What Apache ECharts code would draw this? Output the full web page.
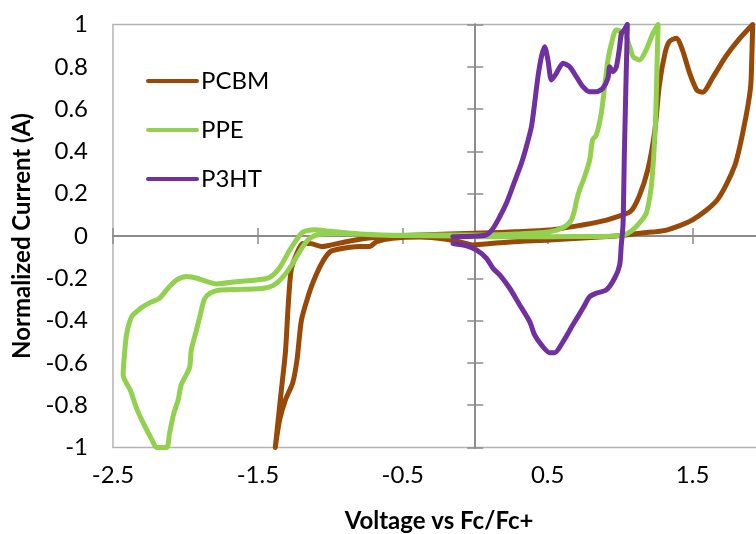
<!DOCTYPE html>
<html>
<head>
<meta charset="utf-8">
<script src="https://cdn.jsdelivr.net/npm/echarts@6/dist/echarts.min.js"></script>
<style>
html,body{margin:0;padding:0;background:#fff;}
#chart{width:756px;height:534px;}
</style>
</head>
<body>
<div id="chart"></div>
<script>
// ---- data (Voltage vs Fc/Fc+, Normalized Current) ----
const seriesNames = ['PCBM', 'PPE', 'P3HT'];
const seriesColors = ['#984807', '#92D050', '#7030A0'];

const pcbmCurve = [
  [-0.02,-0.043],[0.24,-0.028],[0.51,-0.019],[0.86,-0.005],[1.04,0.005],[1.15,0.014],[1.32,0.028],
  [1.50,0.076],[1.67,0.17],[1.79,0.33],[1.85,0.50],[1.90,0.70],[1.91,0.87],[1.915,1.0],
  [1.82,0.93],[1.73,0.85],[1.64,0.75],[1.57,0.68],[1.53,0.69],[1.48,0.77],[1.43,0.88],[1.39,0.935],
  [1.34,0.92],[1.31,0.865],[1.27,0.71],[1.24,0.50],[1.19,0.31],[1.13,0.186],[1.07,0.115],[0.95,0.085],
  [0.86,0.068],[0.74,0.052],[0.51,0.028],[0.28,0.02],[0.05,0.014],[-0.18,0.01],[-0.38,0.005],
  [-0.57,0.0],[-0.75,-0.011],[-0.89,-0.027],[-1.00,-0.043],[-1.06,-0.05],[-1.14,-0.035],[-1.19,-0.035],
  [-1.23,-0.08],[-1.27,-0.16],[-1.29,-0.32],[-1.31,-0.55],[-1.34,-0.74],[-1.36,-0.87],[-1.38,-1.0],
  [-1.35,-0.87],[-1.31,-0.775],[-1.26,-0.695],[-1.23,-0.585],[-1.20,-0.40],[-1.16,-0.30],[-1.12,-0.22],
  [-1.06,-0.13],[-1.00,-0.074],[-0.91,-0.058],[-0.80,-0.05],[-0.73,-0.05],[-0.68,-0.027],[-0.57,-0.011],
  [-0.38,-0.005],[-0.2,-0.015],[-0.09,-0.03],[-0.02,-0.043]
];

const ppeCurve = [
  [0,-0.003],[0.5,-0.003],[0.9,-0.002],[1.0,0.003],[1.05,0.012],[1.11,0.044],[1.18,0.107],[1.215,0.233],
  [1.233,0.39],[1.245,0.548],[1.254,0.785],[1.262,1.0],
  [1.226,0.958],[1.18,0.88],[1.134,0.832],[1.09,0.848],[1.066,0.895],[1.03,0.958],[0.974,0.974],
  [0.94,0.91],[0.916,0.832],[0.893,0.706],[0.87,0.58],[0.836,0.478],[0.81,0.454],[0.79,0.36],
  [0.755,0.28],[0.72,0.217],[0.70,0.17],[0.686,0.123],[0.663,0.076],[0.617,0.044],[0.514,0.02],
  [0.284,0.01],[0.054,0.005],[-0.176,0.005],[-0.5,0.004],[-0.8,0.01],[-1.0,0.022],[-1.11,0.03],
  [-1.18,0.022],[-1.21,0.005],
  [-1.28,-0.066],[-1.35,-0.15],[-1.42,-0.196],[-1.51,-0.208],[-1.65,-0.216],[-1.785,-0.227],
  [-1.85,-0.216],[-1.92,-0.20],[-1.99,-0.192],[-2.06,-0.208],[-2.12,-0.247],[-2.18,-0.295],
  [-2.245,-0.315],[-2.31,-0.342],[-2.37,-0.38],[-2.405,-0.46],[-2.42,-0.555],[-2.43,-0.657],
  [-2.38,-0.73],[-2.34,-0.81],[-2.29,-0.886],[-2.23,-0.965],[-2.20,-1.0],[-2.13,-1.0],[-2.11,-0.933],
  [-2.08,-0.838],[-2.05,-0.775],[-2.03,-0.705],[-1.99,-0.65],[-1.97,-0.618],[-1.96,-0.54],
  [-1.93,-0.46],[-1.90,-0.38],[-1.87,-0.30],[-1.83,-0.27],[-1.76,-0.255],[-1.60,-0.252],
  [-1.46,-0.247],[-1.39,-0.232],[-1.325,-0.192],[-1.26,-0.13],[-1.19,-0.05],[-1.14,-0.01],
  [-1.07,0.008],[-0.93,0.012],[-0.66,0.005],[-0.5,0.002],[-0.1,0.0]
];

const p3htCurve = [
  [-0.155,-0.003],[0.077,0.005],[0.123,0.036],[0.169,0.091],[0.215,0.155],[0.25,0.217],[0.284,0.28],
  [0.319,0.344],[0.353,0.422],[0.388,0.517],[0.41,0.627],[0.433,0.753],[0.457,0.848],[0.479,0.895],
  [0.502,0.832],[0.526,0.738],[0.56,0.769],[0.606,0.817],[0.652,0.80],[0.698,0.753],[0.743,0.706],
  [0.79,0.682],[0.836,0.682],[0.88,0.698],[0.916,0.746],[0.928,0.80],[0.95,0.777],[0.974,0.80],
  [0.997,0.895],[1.008,0.958],[1.02,0.966],[1.05,1.0],
  [1.03,0.41],[1.02,0.052],[1.008,-0.043],[0.997,-0.137],[0.962,-0.2],[0.905,-0.255],[0.836,-0.27],
  [0.79,-0.287],[0.743,-0.342],[0.674,-0.42],[0.606,-0.50],[0.548,-0.552],[0.514,-0.552],
  [0.457,-0.515],[0.41,-0.468],[0.376,-0.405],[0.307,-0.326],[0.238,-0.247],[0.169,-0.184],
  [0.123,-0.153],[0.077,-0.105],[0.008,-0.066],[-0.06,-0.046],[-0.153,-0.035]
];

const xMin = -2.5, xMax = 2, xStep = 1;
const yMin = -1, yMax = 1, yStep = 0.2;
const xAxisTitle = 'Voltage vs Fc/Fc+';
const yAxisTitle = 'Normalized Current (A)';

// ---- chart ----
const FONT = 'Lato, "Open Sans", sans-serif';
const AXIS_GRAY = '#8c8c8c';
const gridRect = { left: 113, top: 24.5, width: 652, height: 423, outerBoundsMode: 'none', containLabel: false };
const fmt = v => String(+(+v).toFixed(1));

function crossAxisX(pos) {
  return {
    type: 'value', gridIndex: 1, position: pos, min: xMin, max: xMax, interval: xStep,
    axisLine: { show: true, onZero: true, lineStyle: { color: AXIS_GRAY, width: 2 } },
    axisTick: { show: true, inside: false, length: 8, lineStyle: { color: AXIS_GRAY, width: 1.5 } },
    axisLabel: { show: false }, splitLine: { show: false }
  };
}
function crossAxisY(pos) {
  return {
    type: 'value', gridIndex: 1, position: pos, min: yMin, max: yMax, interval: yStep,
    axisLine: { show: true, onZero: true, lineStyle: { color: AXIS_GRAY, width: 2 } },
    axisTick: { show: true, inside: false, length: 8, lineStyle: { color: AXIS_GRAY, width: 1.5 } },
    axisLabel: { show: false }, splitLine: { show: false }
  };
}

const curves = [pcbmCurve, ppeCurve, p3htCurve];
const LEGEND_ICON = 'path://M2,0 L51,0 A2,2 0 0 1 51,4 L2,4 A2,2 0 0 1 2,0 Z';

const option = {
  animation: false,
  backgroundColor: '#ffffff',
  textStyle: { fontFamily: FONT },
  grid: [
    Object.assign({ show: true, borderColor: '#b4b4b4', borderWidth: 1.5, backgroundColor: 'transparent' }, gridRect),
    Object.assign({ show: false }, gridRect)
  ],
  legend: {
    orient: 'vertical', left: 141, top: 64,
    itemWidth: 53, itemHeight: 4, itemGap: 25,
    data: seriesNames.map(n => ({ name: n, icon: LEGEND_ICON })),
    textStyle: { fontFamily: FONT, fontSize: 24, color: '#000', padding: [0, 0, 0, -3] }
  },
  xAxis: [
    {
      type: 'value', gridIndex: 0, position: 'bottom', min: xMin, max: xMax, interval: xStep,
      axisLine: { show: false, onZero: false }, axisTick: { show: false }, splitLine: { show: false },
      axisLabel: { show: true, margin: 16, fontSize: 24, fontFamily: FONT, color: '#000', formatter: fmt, showMaxLabel: false },
      name: xAxisTitle, nameLocation: 'middle', nameGap: 62,
      nameTextStyle: { fontFamily: FONT, fontSize: 24, fontWeight: 'bold', color: '#000' }
    },
    crossAxisX('top'),
    crossAxisX('bottom')
  ],
  yAxis: [
    {
      type: 'value', gridIndex: 0, position: 'left', min: yMin, max: yMax, interval: yStep,
      axisLine: { show: false, onZero: false }, axisTick: { show: false }, splitLine: { show: false },
      axisLabel: { show: true, margin: 25, fontSize: 24, fontFamily: FONT, color: '#000', formatter: fmt },
      name: yAxisTitle, nameLocation: 'middle', nameGap: 78,
      nameTextStyle: { fontFamily: FONT, fontSize: 24, fontWeight: 'bold', color: '#000' }
    },
    crossAxisY('left'),
    crossAxisY('right')
  ],
  series: seriesNames.map((name, i) => ({
    name: name, type: 'line', xAxisIndex: 0, yAxisIndex: 0,
    data: curves[i], showSymbol: false, symbol: 'none', smooth: 0.25,
    itemStyle: { color: seriesColors[i] },
    lineStyle: { color: seriesColors[i], width: 5, cap: 'round', join: 'round' },
    z: 3 + i
  }))
};

const chart = echarts.init(document.getElementById('chart'), null, { renderer: 'canvas' });
chart.setOption(option);
</script>
</body>
</html>
